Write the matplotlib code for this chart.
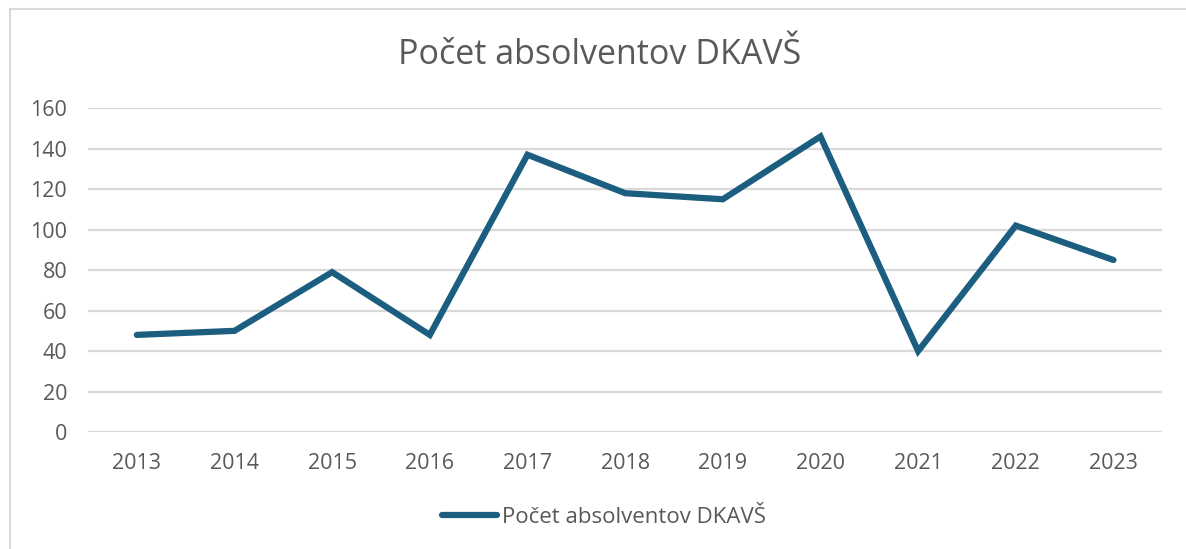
import matplotlib.pyplot as plt
from matplotlib.patches import Rectangle

# Údaje z grafu
roky = ["2013", "2014", "2015", "2016", "2017", "2018",
        "2019", "2020", "2021", "2022", "2023"]
absolventi = [48, 50, 79, 48, 137, 118, 115, 146, 40, 102, 85]
y_ticky = [0, 20, 40, 60, 80, 100, 120, 140, 160]

farba_ciary = "#1b5e80"
farba_textu = "#595959"
farba_mriezky = "#d9d9d9"

plt.rcParams["font.family"] = ["Open Sans", "DejaVu Sans"]

fig = plt.figure(figsize=(11.86, 5.49), dpi=100)
ax = fig.add_axes([0.0742, 0.213, 0.9058, 0.590])

x = list(range(len(roky)))
ax.plot(x, absolventi, color=farba_ciary, linewidth=4.5,
        solid_capstyle="round", solid_joinstyle="miter",
        label="Počet absolventov DKAVŠ")

ax.set_xlim(-0.5, len(roky) - 0.5)
ax.set_ylim(0, 160)
ax.set_xticks(x)
ax.set_xticklabels(roky)
ax.set_yticks(y_ticky)

ax.grid(axis="y", color=farba_mriezky, linewidth=1.6)
ax.set_axisbelow(True)
for s in ax.spines.values():
    s.set_visible(False)
ax.tick_params(length=0, labelsize=15.5, colors=farba_textu)
ax.tick_params(axis="x", pad=15)
ax.tick_params(axis="y", pad=15)

fig.text(0.506, 0.899, "Počet absolventov DKAVŠ", ha="center", va="center",
         fontsize=24.5, color=farba_textu)

leg = fig.legend(loc="center", bbox_to_anchor=(0.509, 0.058), frameon=False,
                 fontsize=16, handlelength=2.5, handletextpad=0.2)
for t in leg.get_texts():
    t.set_color(farba_textu)

# okraj grafu
fig.patches.append(Rectangle((10 / 1186, -0.1), 1.2, 1 - 9 / 549 + 0.1,
                             transform=fig.transFigure, fill=False,
                             edgecolor="#d9d9d9", linewidth=1.5))

fig.savefig("out.png", dpi=100)
